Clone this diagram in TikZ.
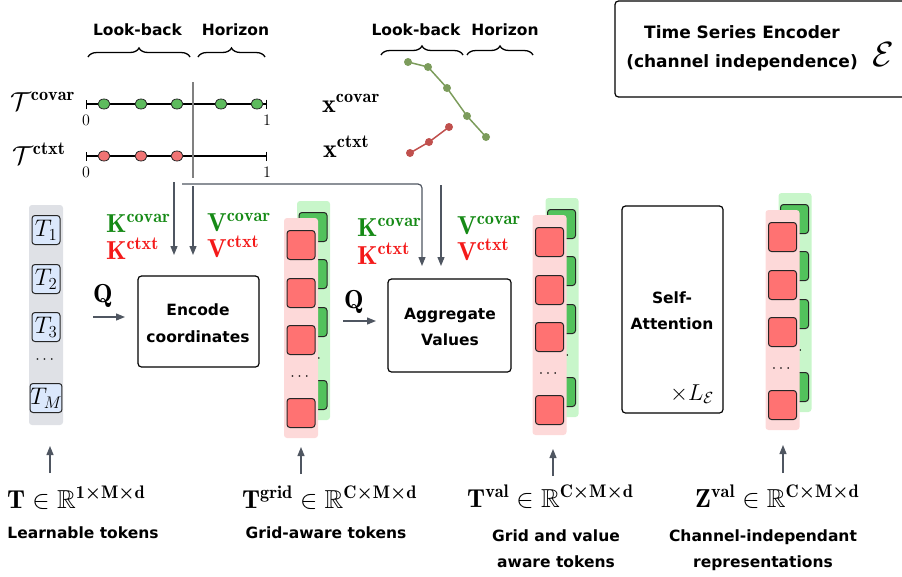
\documentclass[tikz,border=0pt]{standalone}
\usepackage{fix-cm}
\usepackage{amsmath,amssymb}
\usepackage{fontspec}
\newfontfamily\labfont{DejaVu Sans}
\usetikzlibrary{arrows.meta,decorations.pathreplacing}
\definecolor{conn}{HTML}{4F5661}
\definecolor{divgray}{HTML}{808080}
\definecolor{tokblue}{HTML}{DBE8FC}
\definecolor{colgray}{HTML}{DFE1E6}
\definecolor{pinkcol}{HTML}{FDD9D9}
\definecolor{greencol}{HTML}{C8F6CA}
\definecolor{redsq}{HTML}{FF7272}
\definecolor{greensq}{HTML}{52C25C}
\definecolor{kgreen}{HTML}{168A16}
\definecolor{kred}{HTML}{F41A1A}
\definecolor{dotgreen}{HTML}{5DBB5D}
\definecolor{dotred}{HTML}{F07474}
\definecolor{sgreen}{HTML}{7C9C5C}
\definecolor{sred}{HTML}{C0504D}
\newcommand{\bx}{\boldsymbol{\times}}
\newcommand{\tokstack}[3]{%
  \node[gcol] (#1g) at ({#2+12.5},{#3+65.5}) {};
  \foreach \d [count=\i] in {0,47,95,168} \node[gsq] (#1gs\i) at ({#2+12},{#3-18+\d}) {};
  \node[dotsn] (#1gd) at ({#2+12},{#3+114}) {$\cdots$};
  \node[pcol] (#1p) at (#2,{#3+83}) {};
  \foreach \d [count=\i] in {0,48,95,168} \node[rsq] (#1rs\i) at (#2,{#3+\d}) {};
  \node[dotsn] (#1rd) at (#2,{#3+132}) {$\cdots$};
}
\tikzset{
  lab/.style={font=\labfont\bfseries\fontsize{15.5}{18}\selectfont, inner sep=0pt, anchor=base},
  ttl/.style={font=\labfont\bfseries\fontsize{17}{20}\selectfont, inner sep=0pt, anchor=base},
  mth/.style={font=\fontsize{26}{30}\selectfont, inner sep=0pt, anchor=base west},
  num/.style={font=\fontsize{16}{18}\selectfont, inner sep=0pt},
  dotsn/.style={font=\fontsize{16}{18}\selectfont, inner sep=0pt},
  box/.style={draw=black, line width=1.2pt, rounded corners=3.5pt, inner sep=0pt},
  arr/.style={draw=conn, line width=1.2pt, -{Triangle[length=9pt,width=7pt]}},
  brc/.style={draw=black, line width=1.3pt, decorate, decoration={brace, amplitude=9pt}},
  tl/.style={draw=black, line width=1.2pt, {Bar[width=9pt,line width=1.2pt]}-{Bar[width=9pt,line width=1.2pt]}},
  divl/.style={draw=divgray, line width=1.1pt},
  gdot/.style={ellipse, draw=black!85, line width=0.8pt, fill=dotgreen, minimum width=12pt, minimum height=10pt, inner sep=0pt},
  rdot/.style={ellipse, draw=black!85, line width=0.8pt, fill=dotred, minimum width=12pt, minimum height=10pt, inner sep=0pt},
  sgp/.style={circle, fill=sgreen, minimum size=8pt, inner sep=0pt},
  srp/.style={circle, fill=sred, minimum size=8pt, inner sep=0pt},
  tok/.style={draw=black!85, line width=1pt, fill=tokblue, rounded corners=3pt, minimum width=28pt, minimum height=29pt, inner sep=0pt, font=\fontsize{24}{26}\selectfont},
  gcol/.style={fill=greencol, rounded corners=3pt, inner sep=0pt, minimum width=33pt, minimum height=219pt},
  pcol/.style={fill=pinkcol, rounded corners=3pt, inner sep=0pt, minimum width=34pt, minimum height=220pt},
  rsq/.style={draw=black!85, line width=1pt, fill=redsq, rounded corners=3pt, minimum width=28pt, minimum height=29pt, inner sep=0pt},
  gsq/.style={draw=black!85, line width=1pt, fill=greensq, rounded corners=3pt, minimum width=28pt, minimum height=29pt, inner sep=0pt},
}
\usetikzlibrary{shapes.geometric}
\begin{document}
\begin{tikzpicture}[x=1pt,y=-1pt]
\useasboundingbox (0,0) rectangle (902,576);
\clip (0,0) rectangle (902,576);

% ---------- braces ----------
\node[lab] (lb1) at (137.5,35) {Look-back};
\node[lab] (hz1) at (235.5,35) {Horizon};
\draw[brc] (88,57) -- (190,57);
\draw[brc] (198,57) -- (265,57);
\node[lab] (lb2) at (416,35) {Look-back};
\node[lab] (hz2) at (505,35) {Horizon};
\draw[brc] (381,55) -- (463,55);
\draw[brc] (467,55) -- (533,55);

% ---------- timelines ----------
\node[mth] (tcov) at (10,110) {$\mathcal{T}^{\mathbf{covar}}$};
\node[mth] (tctx) at (12,164) {$\mathcal{T}^{\mathbf{ctxt}}$};
\coordinate (ca) at (86,104); \coordinate (cb) at (267,104);
\draw[tl] (ca) -- (cb);
\foreach \x [count=\i] in {104,141,177,221,257} \node[gdot] (cd\i) at (\x,104) {};
\node[num] (ca0) at (86,120) {$0$};
\node[num] (cb1) at (267,120) {$1$};
\coordinate (xa) at (86,156); \coordinate (xb) at (267,156);
\draw[tl] (xa) -- (xb);
\foreach \x [count=\i] in {104,141,177} \node[rdot] (xd\i) at (\x,156) {};
\node[num] (xa0) at (86,172) {$0$};
\node[num] (xb1) at (267,172) {$1$};
\coordinate (dvt) at (193,82); \coordinate (dvb) at (193,178);
\draw[divl] (dvt) -- (dvb);

% ---------- series ----------
\node[mth] (scov) at (322,112) {$\mathbf{x}^{\mathbf{covar}}$};
\node[mth] (sctx) at (323,157) {$\mathbf{x}^{\mathbf{ctxt}}$};
\node[sgp] (g1) at (408,62) {};
\node[sgp] (g2) at (428,67) {};
\node[sgp] (g3) at (447,88) {};
\node[sgp] (g4) at (467,116) {};
\node[sgp] (g5) at (486,137) {};
\draw[sgreen, line width=1.5pt] (g1.center) -- (g2.center) -- (g3.center) -- (g4.center) -- (g5.center);
\node[srp] (r1) at (410,153) {};
\node[srp] (r2) at (429,142) {};
\node[srp] (r3) at (449,127) {};
\draw[sred, line width=1.5pt] (r1.center) -- (r2.center) -- (r3.center);

% ---------- encoder title box ----------
\node[box, minimum width=295pt, minimum height=96pt] (tse) at (762.5,49) {};
\node[ttl] (tse1) at (742,38) {Time Series Encoder};
\node[ttl] (tse2) at (742,67) {(channel independence)};
\node[font=\fontsize{35}{40}\selectfont, inner sep=0pt, anchor=base] (epsE) at (883,66) {$\mathcal{E}$};

% ---------- learnable tokens ----------
\node[fill=colgray, rounded corners=3pt, inner sep=0pt, minimum width=34pt, minimum height=220pt] (col) at (46,315) {};
\node[tok] (t1) at (46,230) {$T_1$};
\node[tok] (t2) at (46,279) {$T_2$};
\node[tok] (t3) at (46,327) {$T_3$};
\node[dotsn] (tdots) at (46,360) {$\cdots$};
\node[tok] (tm) at (46,398) {$T_M$};

% ---------- encode coordinates ----------
\node[box, minimum width=121pt, minimum height=91pt] (enc) at (198.5,321.5) {};
\node[lab] (enc1) at (198,315) {Encode};
\node[lab] (enc2) at (198,342) {coordinates};
\node[mth] (q1) at (93,302) {$\mathbf{Q}$};
\coordinate (q1s) at (93,317); \coordinate (q1e) at (125,317);
\draw[arr] (q1s) -- (q1e);
\node[mth, text=kgreen] (k1a) at (106,232) {$\mathbf{K}^{\mathbf{covar}}$};
\node[mth, text=kred] (k1b) at (106,259) {$\mathbf{K}^{\mathbf{ctxt}}$};
\node[mth, text=kgreen] (v1a) at (207,231) {$\mathbf{V}^{\mathbf{covar}}$};
\node[mth, text=kred] (v1b) at (207,257) {$\mathbf{V}^{\mathbf{ctxt}}$};
\coordinate (k1s) at (174,182); \coordinate (k1e) at (174,255);
\draw[arr] (k1s) -- (k1e);
\coordinate (v1s) at (193,186); \coordinate (v1e) at (193,255);
\draw[arr] (v1s) -- (v1e);

% ---------- stacks ----------
\tokstack{sa}{301}{245}
\tokstack{sb}{549.5}{242}
\tokstack{sc}{782.5}{237}

% ---------- aggregate values ----------
\node[box, minimum width=123pt, minimum height=93pt] (agg) at (449.5,325.5) {};
\node[lab] (agg1) at (450,319) {Aggregate};
\node[lab] (agg2) at (450,345) {Values};
\node[mth] (q2) at (344,308) {$\mathbf{Q}$};
\coordinate (q2s) at (343,321); \coordinate (q2e) at (376,321);
\draw[arr] (q2s) -- (q2e);
\node[mth, text=kgreen] (k2a) at (357,236) {$\mathbf{K}^{\mathbf{covar}}$};
\node[mth, text=kred] (k2b) at (357,264) {$\mathbf{K}^{\mathbf{ctxt}}$};
\node[mth, text=kgreen] (v2a) at (457,234) {$\mathbf{V}^{\mathbf{covar}}$};
\node[mth, text=kred] (v2b) at (457,260) {$\mathbf{V}^{\mathbf{ctxt}}$};
\coordinate (hs) at (182,184); \coordinate (k2e) at (422,266);
\draw[arr, rounded corners=4pt] (hs) -| (k2e);
\coordinate (v2s) at (441,185); \coordinate (v2e) at (441,266);
\draw[arr] (v2s) -- (v2e);

% ---------- self-attention ----------
\node[box, minimum width=101pt, minimum height=207pt] (satt) at (672.5,309.5) {};
\node[lab] (sat1) at (672,303) {Self-};
\node[lab] (sat2) at (672,329) {Attention};
\node[font=\fontsize{23}{26}\selectfont, inner sep=0pt, anchor=base west] (nl) at (670,400) {$\times L_{\mathcal{E}}$};

% ---------- bottom labels ----------
\node[mth] (lt) at (7,508) {$\mathbf{T}\in\mathbb{R}^{\mathbf{1}\bx\mathbf{M}\bx\mathbf{d}}$};
\node[lab] (lt2) at (83,538) {Learnable tokens};
\coordinate (a1s) at (50,473); \coordinate (a1e) at (50,446);
\draw[arr] (a1s) -- (a1e);

\node[mth] (lg) at (242,508) {$\mathbf{T}^{\mathbf{grid}}\in\mathbb{R}^{\mathbf{C}\bx\mathbf{M}\bx\mathbf{d}}$};
\node[lab] (lg2) at (326,538) {Grid-aware tokens};
\coordinate (a2s) at (301,474); \coordinate (a2e) at (301,447);
\draw[arr] (a2s) -- (a2e);

\node[mth] (lv) at (467,507) {$\mathbf{T}^{\mathbf{val}}\in\mathbb{R}^{\mathbf{C}\bx\mathbf{M}\bx\mathbf{d}}$};
\node[lab] (lv2) at (556,541) {Grid and value};
\node[lab] (lv3) at (556,567) {aware tokens};
\coordinate (a3s) at (553,476); \coordinate (a3e) at (553,449);
\draw[arr] (a3s) -- (a3e);

\node[mth] (lz) at (695,507) {$\mathbf{Z}^{\mathbf{val}}\in\mathbb{R}^{\mathbf{C}\bx\mathbf{M}\bx\mathbf{d}}$};
\node[lab] (lz2) at (763,541) {Channel-independant};
\node[lab] (lz3) at (763,567) {representations};
\coordinate (a4s) at (783,473); \coordinate (a4e) at (783,445);
\draw[arr] (a4s) -- (a4e);
\end{tikzpicture}
\end{document}
